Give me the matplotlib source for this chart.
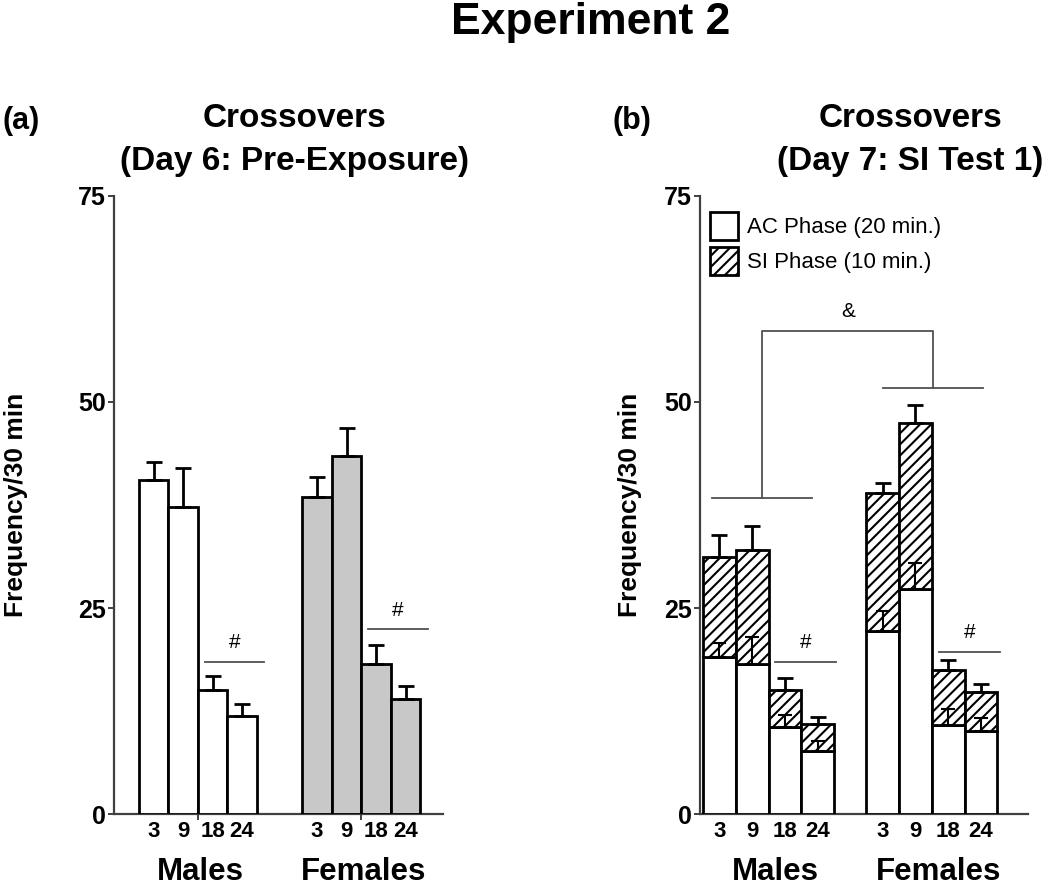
import numpy as np
import matplotlib
matplotlib.use("Agg")
import matplotlib.pyplot as plt

plt.rcParams['font.family'] = ['Liberation Sans', 'DejaVu Sans']
plt.rcParams['hatch.linewidth'] = 1.5

ages = ['3', '9', '18', '24']

# (a) Day 6 pre-exposure crossovers
pre_males = [40.5, 37.3, 15.0, 11.9]
pre_males_err = [2.2, 4.7, 1.7, 1.5]
pre_females = [38.5, 43.5, 18.2, 14.0]
pre_females_err = [2.4, 3.3, 2.3, 1.5]

# (b) Day 7 SI test 1, stacked AC + SI phases
ac_males = [19.1, 18.2, 10.5, 7.6]
ac_males_err = [1.6, 3.3, 1.5, 1.3]
si_males = [12.1, 13.8, 4.5, 3.3]
si_males_err = [2.6, 2.9, 1.5, 0.9]
ac_females = [22.2, 27.3, 10.8, 10.1]
ac_females_err = [2.4, 3.2, 1.9, 1.5]
si_females = [16.8, 20.1, 6.7, 4.7]
si_females_err = [1.2, 2.2, 1.2, 1.0]

# significance marks: (height of line, label)
sig_a = [(18.5, '#'), (22.4, '#')]
sig_b = [(18.4, '#'), (19.7, '#')]
bracket_b = {'males': 38.3, 'females': 51.7, 'top': 58.6, 'label': '&'}

edge = 'black'
lw = 2.0
spine_col = '#404040'
line_col = '#505050'

fig = plt.figure(figsize=(10.5, 8.9), dpi=100)
ax_a = fig.add_axes([114/1050, 76/890, 329/1050, 618/890])
ax_b = fig.add_axes([700/1050, 76/890, 328/1050, 618/890])


def style_axis(ax, xmax, xs, group_x, ypad, minor=None):
    ax.set_xlim(0, xmax)
    ax.set_ylim(0, 75)
    for s in ['top', 'right']:
        ax.spines[s].set_visible(False)
    for s in ['left', 'bottom']:
        ax.spines[s].set_linewidth(1.6)
        ax.spines[s].set_color(spine_col)
    ax.set_yticks([0, 25, 50, 75])
    ax.tick_params(axis='y', direction='out', length=4, width=1.4, color=spine_col,
                   labelsize=18, pad=2)
    for t in ax.get_yticklabels():
        t.set_fontweight('bold')
    ax.set_xticks(xs)
    ax.set_xticklabels(ages * 2, fontsize=16, fontweight='bold')
    ax.tick_params(axis='x', length=0, pad=5)
    if minor is not None:
        ax.set_xticks(minor, minor=True)
        ax.tick_params(axis='x', which='minor', length=4, width=1.4, color=spine_col)
    ax.set_ylabel('Frequency/30 min', fontsize=19, fontweight='bold', labelpad=ypad)
    for gx, name in zip(group_x, ['Males', 'Females']):
        ax.text(gx, -0.1066, name, transform=ax.get_xaxis_transform(), ha='center',
                va='baseline', fontsize=22.5, fontweight='bold')


def sig_line(ax, x18, x24, y, label, left=0.27, right=0.7):
    ax.plot([x18 - left, x24 + right], [y, y], color=line_col, lw=1.3)
    ax.text((x18 - left + x24 + right) / 2, y + 1.2, label, ha='center', va='bottom',
            fontsize=15)


# ---- panel (a)
xm_a = 0.84 + 0.5 + np.arange(4)
xf_a = 6.38 + 0.5 + np.arange(4)
err_kw = dict(ecolor=edge, elinewidth=lw, capsize=5.5, capthick=lw)
ax_a.bar(xm_a, pre_males, width=1.0, color='white', edgecolor=edge, linewidth=lw,
         yerr=[np.zeros(4), pre_males_err], error_kw=err_kw, zorder=3)
ax_a.bar(xf_a, pre_females, width=1.0, color='#c8c8c8', edgecolor=edge, linewidth=lw,
         yerr=[np.zeros(4), pre_females_err], error_kw=err_kw, zorder=3)
style_axis(ax_a, 11.15, np.concatenate([xm_a, xf_a]), [2.94, 8.45], 36,
           minor=[xm_a[1] + 0.5, xf_a[1] + 0.5])
sig_line(ax_a, xm_a[2], xm_a[3], sig_a[0][0], sig_a[0][1], 0.27, 0.76)
sig_line(ax_a, xf_a[2], xf_a[3], sig_a[1][0], sig_a[1][1], 0.27, 0.76)

# ---- panel (b)
xm_b = 0.09 + 0.5 + np.arange(4)
xf_b = 5.07 + 0.5 + np.arange(4)
small_kw = dict(ecolor=edge, elinewidth=1.5, capsize=5, capthick=1.5, zorder=5)
for xs, ac, ac_err, si, si_err in [(xm_b, ac_males, ac_males_err, si_males, si_males_err),
                                   (xf_b, ac_females, ac_females_err, si_females, si_females_err)]:
    ac_bars = ax_b.bar(xs, ac, width=1.0, color='white', edgecolor=edge, linewidth=lw,
                       zorder=3, label='AC Phase (20 min.)')
    si_bars = ax_b.bar(xs, si, bottom=ac, width=1.0, color='white', edgecolor=edge,
                       linewidth=lw, hatch='///', zorder=3, label='SI Phase (10 min.)')
    ax_b.errorbar(xs, ac, yerr=[np.zeros(4), ac_err], fmt='none', **small_kw)
    ax_b.errorbar(xs, np.add(ac, si), yerr=[np.zeros(4), si_err], fmt='none',
                  ecolor=edge, elinewidth=lw, capsize=5.5, capthick=lw, zorder=5)

style_axis(ax_b, 10.0, np.concatenate([xm_b, xf_b]), [2.29, 7.27], 16)
sig_line(ax_b, xm_b[2], xm_b[3], sig_b[0][0], sig_b[0][1], 0.3, 0.56)
sig_line(ax_b, xf_b[2], xf_b[3], sig_b[1][0], sig_b[1][1], 0.27, 0.59)

# sex bracket
mx = (xm_b[0] - 0.22 + xm_b[3] - 0.17) / 2
fx = (xf_b[0] + 0.02 + xf_b[3] + 0.07) / 2
ax_b.plot([xm_b[0] - 0.22, xm_b[3] - 0.17], [bracket_b['males']] * 2, color=line_col, lw=1.3)
ax_b.plot([xf_b[0] + 0.02, xf_b[3] + 0.07], [bracket_b['females']] * 2, color=line_col, lw=1.3)
ax_b.plot([mx, mx, fx, fx],
          [bracket_b['males'], bracket_b['top'], bracket_b['top'], bracket_b['females']],
          color=line_col, lw=1.3)
ax_b.text((mx + fx) / 2, bracket_b['top'] + 1.2, bracket_b['label'], ha='center',
          va='bottom', fontsize=15)

ax_b.legend(handles=[ac_bars, si_bars], loc='upper left', bbox_to_anchor=(0.03, 0.974),
            frameon=False, fontsize=16, handlelength=1.26, handleheight=1.56,
            handletextpad=0.4, labelspacing=0.3, borderpad=0, borderaxespad=0)

# titles
fig.text(591/1050, 1 - 34/890, 'Experiment 2', ha='center', va='baseline',
         fontsize=32, fontweight='bold')
fig.text(2/1050, 1 - 129/890, '(a)', ha='left', va='baseline', fontsize=22, fontweight='bold')
fig.text(613/1050, 1 - 129/890, '(b)', ha='left', va='baseline', fontsize=22, fontweight='bold')
for cx, sub in [(295, '(Day 6: Pre-Exposure)'), (910, '(Day 7: SI Test 1)')]:
    fig.text(cx/1050, 1 - 127/890, 'Crossovers', ha='center', va='baseline',
             fontsize=24, fontweight='bold')
    fig.text(cx/1050, 1 - 170/890, sub, ha='center', va='baseline',
             fontsize=24, fontweight='bold')

fig.savefig('out.png', dpi=100)
